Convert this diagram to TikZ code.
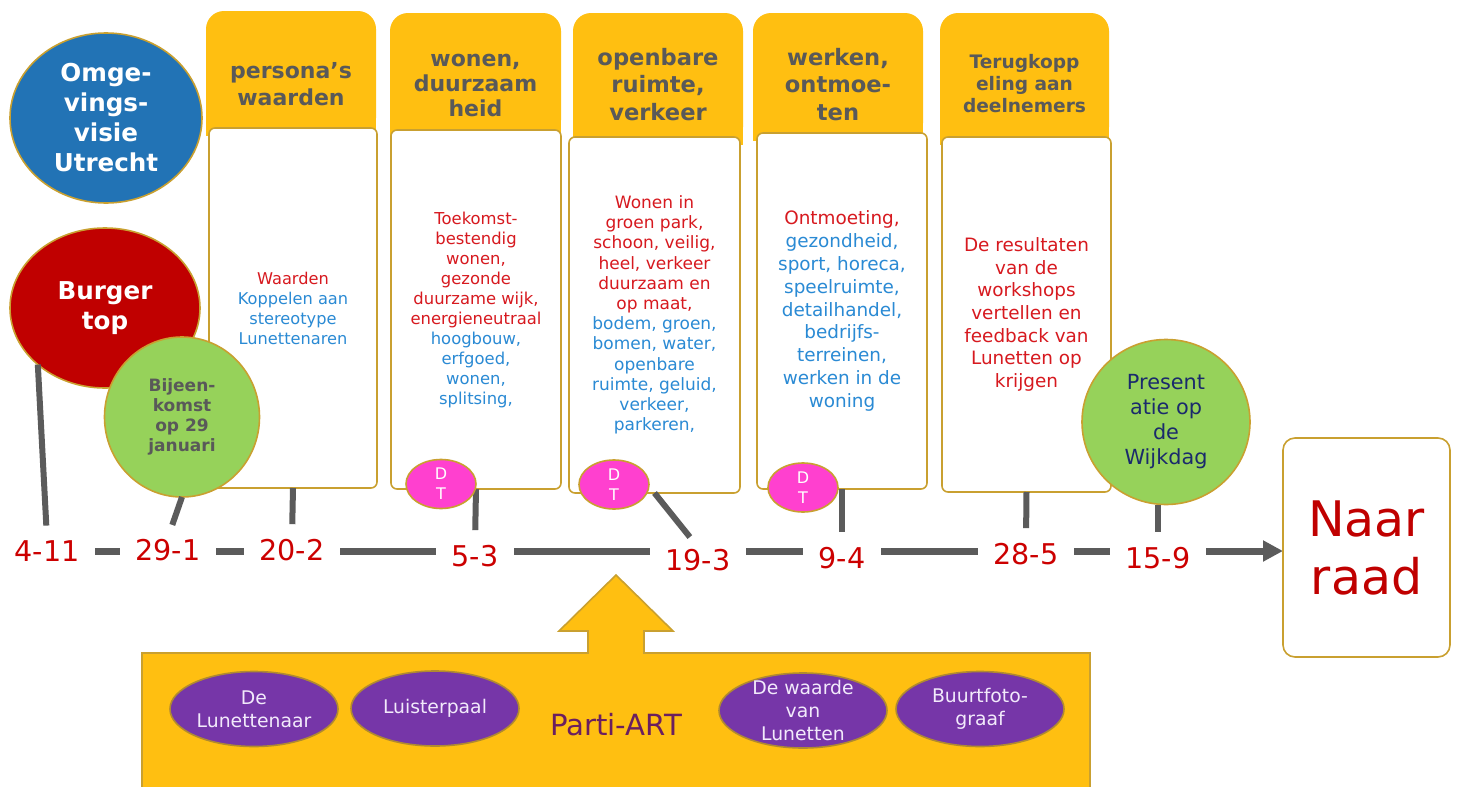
\documentclass[tikz,border=0pt]{standalone}
\usepackage{fontspec}
\setmainfont{DejaVu Sans}
\usetikzlibrary{shapes.geometric,arrows.meta}
\pgfdeclarelayer{bg}
\pgfsetlayers{bg,main}
\definecolor{yel}{HTML}{FFBF11}
\definecolor{gold}{HTML}{C9A030}
\definecolor{pgold}{HTML}{B08A30}
\definecolor{hgray}{HTML}{595959}
\definecolor{lgray}{HTML}{5B5B5B}
\definecolor{cblue}{HTML}{2273B5}
\definecolor{cred}{HTML}{C00000}
\definecolor{cgreen}{HTML}{96D25A}
\definecolor{cpink}{HTML}{FF40CF}
\definecolor{cpurple}{HTML}{7636A8}
\definecolor{partic}{HTML}{6B1F5F}
\definecolor{lav}{HTML}{F2EAFB}
\definecolor{txtred}{HTML}{D7191F}
\definecolor{txtblue}{HTML}{2A8AD4}
\definecolor{datered}{HTML}{CC0000}
\definecolor{navy}{HTML}{1A2A6C}
\newcommand{\rd}[1]{\textcolor{txtred}{#1}}
\begin{document}
\begin{tikzpicture}[x=0.5pt,y=-0.5pt,
  every node/.style={inner sep=0pt, outer sep=0pt},
  hdr/.style={fill=yel, rounded corners=9pt},
  hdrtxt/.style={text=hgray, align=center},
  bodybox/.style={draw=gold, line width=0.8pt, fill=white, rounded corners=3pt, align=center, text=txtblue},
  bigell/.style={ellipse, draw=gold, line width=0.8pt, align=center},
  dtell/.style={ellipse, fill=cpink, draw=gold, line width=0.8pt, minimum width=35pt, minimum height=24.5pt},
  dttxt/.style={text=white, align=center, font=\fontsize{8}{10}\selectfont},
  datelbl/.style={fill=white, inner xsep=8pt, inner ysep=1pt, text=datered, font=\fontsize{14.3}{16}\selectfont},
  conn/.style={draw=lgray, line width=3pt, shorten >=6.5pt},
  tline/.style={draw=lgray, line width=3.5pt},
  purpell/.style={ellipse, fill=cpurple, draw=pgold, line width=0.8pt, minimum width=84pt, minimum height=37.5pt},
  purptxt/.style={text=lav, align=center, font=\fontsize{9.4}{11.5}\selectfont},
]
\useasboundingbox (0,0) rectangle (1457,787);

% headers
\node[hdr, minimum width=85pt, minimum height=62.5pt] (h1) at (291,73.5) {};
\node[hdr, minimum width=85.5pt, minimum height=62.5pt] (h2) at (475.5,75.5) {};
\node[hdr, minimum width=85pt, minimum height=66pt] (h3) at (658,79) {};
\node[hdr, minimum width=85pt, minimum height=64pt] (h4) at (838,77) {};
\node[hdr, minimum width=84.5pt, minimum height=66pt] (h5) at (1024.5,79) {};
\foreach \h in {h1,h2,h3,h4,h5} {\fill[yel] (\h.west) rectangle (\h.south east);}
\node[hdrtxt, font=\bfseries\fontsize{11}{13.5}\selectfont] (ht1) at (291,84) {persona’s\\waarden};
\node[hdrtxt, font=\bfseries\fontsize{11}{12.5}\selectfont] (ht2) at (475.5,85) {wonen,\\duurzaam\\heid};
\node[hdrtxt, font=\bfseries\fontsize{11.3}{13.7}\selectfont] (ht3) at (658,84.5) {openbare\\ruimte,\\verkeer};
\node[hdrtxt, font=\bfseries\fontsize{11.3}{13.7}\selectfont] (ht4) at (838,84.5) {werken,\\ontmoe-\\ten};
\node[hdrtxt, font=\bfseries\fontsize{9.3}{11}\selectfont] (ht5) at (1024.5,84) {Terugkopp\\eling aan\\deelnemers};

% bodies
\node[bodybox, minimum width=84pt, minimum height=180pt, font=\fontsize{8.1}{10}\selectfont] (b1) at (293,308)
 {\rd{Waarden}\\Koppelen aan\\stereotype\\Lunettenaren};
\node[bodybox, minimum width=85pt, minimum height=179.5pt, font=\fontsize{8.2}{10}\selectfont] (b2) at (476,309.5)
 {\rd{Toekomst-}\\\rd{bestendig}\\\rd{wonen,}\\\rd{gezonde}\\\rd{duurzame wijk,}\\\rd{energieneutraal}\\hoogbouw,\\erfgoed,\\wonen,\\splitsing,};
\node[bodybox, minimum width=85.5pt, minimum height=178pt, font=\fontsize{8.5}{10.1}\selectfont] (b3) at (654.5,315)
 {\rd{Wonen in}\\\rd{groen park,}\\\rd{schoon, veilig,}\\\rd{heel, verkeer}\\\rd{duurzaam en}\\\rd{op maat,}\\bodem, groen,\\bomen, water,\\openbare\\ruimte, geluid,\\verkeer,\\parkeren,};
\node[bodybox, minimum width=85pt, minimum height=178pt, font=\fontsize{9.2}{11.4}\selectfont] (b4) at (842,311)
 {\rd{Ontmoeting,}\\gezondheid,\\sport, horeca,\\speelruimte,\\detailhandel,\\bedrijfs-\\terreinen,\\werken in de\\woning};
\node[bodybox, minimum width=84.5pt, minimum height=177.5pt, font=\fontsize{9.2}{11.3}\selectfont, text=txtred] (b5) at (1026.5,314.5)
 {De resultaten\\van de\\workshops\\vertellen en\\feedback van\\Lunetten op\\krijgen};

% circles
\node[bigell, fill=cblue, text=white, minimum width=96pt, minimum height=85pt, font=\bfseries\fontsize{12.3}{15}\selectfont] (omg) at (106,118) {Omge-\\vings-\\visie\\Utrecht};
\node[bigell, fill=cred, text=white, minimum width=95pt, minimum height=80pt, font=\bfseries\fontsize{12.3}{15}\selectfont] (burger) at (105,308) {Burger\\top};
\node[bigell, fill=cgreen, text=hgray, minimum width=77.5pt, minimum height=80pt, font=\bfseries\fontsize{8.5}{10}\selectfont] (bij) at (182,417) {Bijeen-\\komst\\op 29\\januari};
\node[bigell, fill=cgreen, text=navy, minimum width=84pt, minimum height=82.5pt, font=\fontsize{10.4}{12.5}\selectfont] (pres) at (1166,422) {Present\\atie op\\de\\Wijkdag};

% Naar raad
\node[draw=gold, line width=0.8pt, rounded corners=6pt, fill=white, minimum width=83.5pt, minimum height=109.5pt, text=cred, align=center, font=\fontsize{24.5}{29}\selectfont] (raad) at (1366.5,547.5) {Naar\\raad};

% date labels
\node[datelbl] (l411) at (47,551) {4-11};
\node[datelbl] (l291) at (168,550) {29-1};
\node[datelbl] (l202) at (292,550) {20-2};
\node[datelbl] (l53) at (475,556) {5-3};
\node[datelbl] (l193) at (698,560) {19-3};
\node[datelbl] (l94) at (842,558) {9-4};
\node[datelbl] (l285) at (1026,554) {28-5};
\node[datelbl] (l159) at (1158,558) {15-9};

\begin{pgfonlayer}{bg}
\draw[tline, -{Triangle[length=10pt,width=10pt]}] (l411.center) -- (l411.center -| raad.west);
\end{pgfonlayer}

% connectors
\draw[conn] (burger.south west) -- (l411.north);
\draw[conn] (bij.south) -- (l291.north);
\draw[conn] (b1.south) -- (l202.north);
\draw[conn] (b2.south) -- (l53.north);
\draw[conn] (b3.south) -- (l193.north);
\draw[conn] (b4.south) -- (l94.north);
\draw[conn] (b5.south) -- (l285.north);
\draw[conn] (pres.south -| l159.north) -- (l159.north);

% DT ellipses
\node[dtell, label={[dttxt]center:{D\\T}}] (dt2) at (441,484) {};
\node[dtell, label={[dttxt]center:{D\\T}}] (dt3) at (614,484.5) {};
\node[dtell, label={[dttxt]center:{D\\T}}] (dt4) at (803,487.5) {};

% bottom Parti-ART area
\path[fill=yel, draw=gold, line width=0.8pt] (142,800) -- (142,653) -- (588,653) -- (588,631) -- (559,631) -- (616,575) -- (673,631) -- (644,631) -- (644,653) -- (1090,653) -- (1090,800);
\node[text=partic, font=\fontsize{14.6}{17}\selectfont] (parti) at (616,725) {Parti-ART};
\node[purpell, label={[purptxt]center:{De\\Lunettenaar}}] (e1) at (254,709) {};
\node[purpell, label={[purptxt]center:{Luisterpaal}}] (e2) at (435,708.5) {};
\node[purpell, label={[purptxt]center:{De waarde\\van\\Lunetten}}] (e3) at (803,710.5) {};
\node[purpell, label={[purptxt]center:{Buurtfoto-\\graaf}}] (e4) at (980,709) {};
\end{tikzpicture}
\end{document}
